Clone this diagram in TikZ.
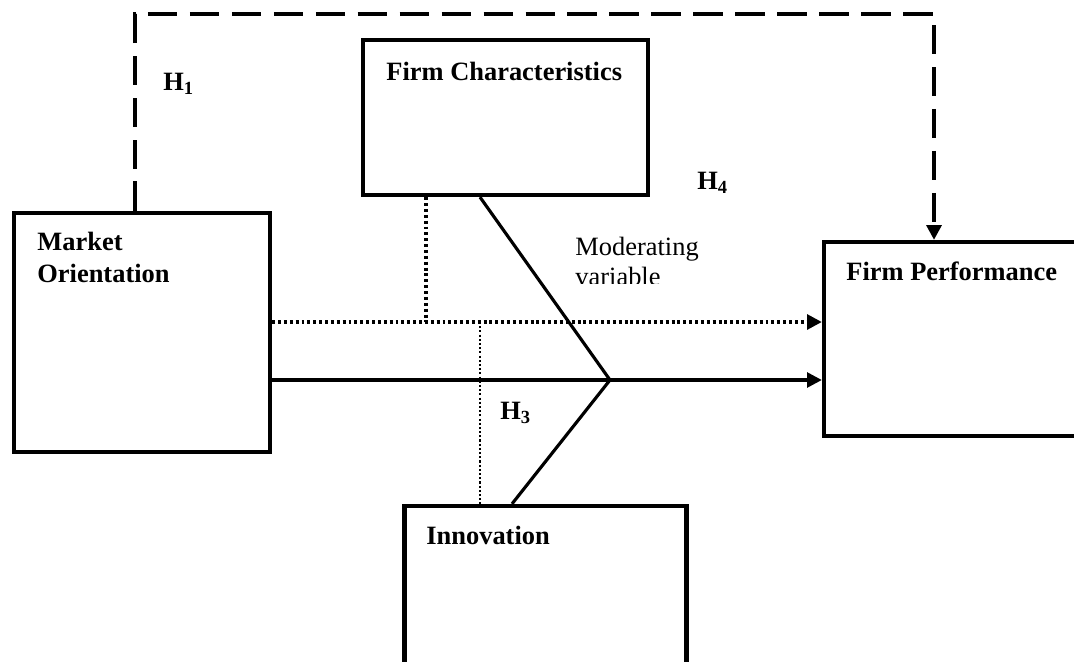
\documentclass[tikz,border=0pt]{standalone}
\usepackage{fontspec}
\setmainfont{Liberation Serif}
\usetikzlibrary{arrows.meta, positioning, calc}

\begin{document}
\begin{tikzpicture}[x=0.01676cm, y=-0.01676cm,
    box/.style={draw, line width=2pt, inner sep=0pt},
    boxlabel/.style={anchor=north west, align=left, inner sep=0pt, font=\fontsize{12.6}{15}\selectfont\bfseries},
    hyp/.style={anchor=north west, inner sep=0pt, font=\fontsize{12.6}{14}\selectfont\bfseries},
    tip/.style={-{Triangle[length=7pt, width=7pt]}}]
    \useasboundingbox (0,0) rectangle (1074,661);
    \clip (0,0) rectangle (1074,661);

    % the four constructs
    \node[box, minimum width=4.291cm, minimum height=4.006cm] (mo) at (142,332.5) {};
    \node[box, minimum width=4.777cm, minimum height=2.598cm] (fc) at (505.5,117.5) {};
    \node[box, minimum width=5.296cm, minimum height=3.251cm] (fp) at (982,339) {};
    \node[box, minimum width=4.726cm, minimum height=3.603cm] (inn) at (545.5,613.5) {};

    \node[boxlabel] (motext) at (37,232) {Market\\Orientation};
    \node[boxlabel] (fctext) at (386,62) {Firm Characteristics};
    \node[boxlabel] (fptext) at (846,261) {Firm Performance};
    \node[boxlabel] (inntext) at (426,526) {Innovation};

    % hypotheses
    \node[hyp] (h1) at (163,73) {H\textsubscript{1}};
    \node[hyp] (h4) at (697,172) {H\textsubscript{4}};
    \node[hyp] (h3) at (500,402) {H\textsubscript{3}};
    \begin{scope}
        \clip (560,220) rectangle (760,283);
        \node[boxlabel, font=\fontsize{12.6}{14.3}\selectfont] (modtext) at (575,237) {Moderating\\variable};
    \end{scope}

    % helper points
    \coordinate (c1) at (135,14);
    \coordinate (c2) at (934,14);
    \coordinate (apex) at (610,380);
    \coordinate (j1) at (426,322);
    \coordinate (j3) at (480,322);

    % direct effect (H1)
    \draw[tip, line width=2pt, dash pattern=on 14pt off 6pt] (mo.north -| c1) -- (c1) -- (c2) -- (fp.north -| c2);

    % mediated and moderated paths
    \draw[tip, line width=1.6pt, dash pattern=on 1.4pt off 1.4pt] (mo.east |- j1) -- (fp.west |- j1);
    \draw[line width=1.6pt, dash pattern=on 1.4pt off 1.4pt] (fc.south -| j1) -- (j1);
    \draw[line width=0.6pt, dash pattern=on 1pt off 1pt] (j3) -- (inn.north -| j3);
    \draw[tip, line width=1.5pt] (mo.east |- apex) -- (fp.west |- apex);
    \draw[line width=1.5pt] (fc.south -| j3) -- (apex) -- (inn.north -| 512,0);
\end{tikzpicture}
\end{document}
